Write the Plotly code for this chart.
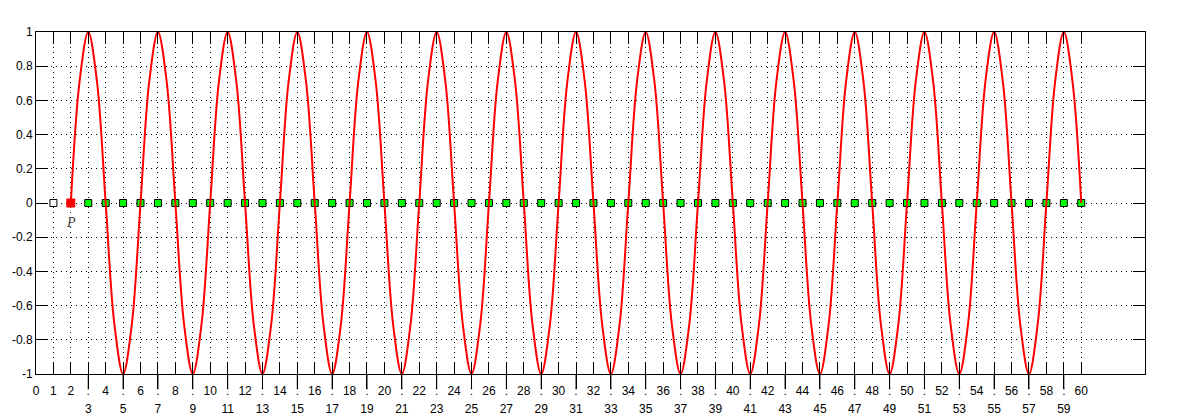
import plotly.graph_objects as go

# ---- data ----
x_ticks = list(range(0, 61))
y_ticks = [1, 0.8, 0.6, 0.4, 0.2, 0, -0.2, -0.4, -0.6, -0.8, -1]
y_tick_labels = ["1", "0.8", "0.6", "0.4", "0.2", "0", "-0.2", "-0.4", "-0.6", "-0.8", "-1"]

# red curve: one period (every 0.5 in x), repeated; runs x=2..60
curve_period_y = [0, 0.71, 1, 0.71, 0, -0.71, -1, -0.71]
curve_half_period_end = [0, 0.71, 1, 0.71, 0]
curve_periods = 14
curve_y = curve_period_y * curve_periods + curve_half_period_end
curve_x = [2 + 0.5 * i for i in range(len(curve_y))]

# square markers along y = 0
white_x = [1]
red_x = [2]
green_x = list(range(3, 61))
label_p = {"x": 2, "y": -0.113, "text": "P"}

FONT = "Liberation Sans, Arial, sans-serif"

fig = go.Figure()

fig.add_trace(go.Scatter(x=white_x, y=[0] * len(white_x), mode="markers",
                         marker=dict(symbol="square", size=7, color="white",
                                     line=dict(color="black", width=1)),
                         showlegend=False, hoverinfo="skip"))
fig.add_trace(go.Scatter(x=red_x, y=[0] * len(red_x), mode="markers",
                         marker=dict(symbol="square", size=8, color="#ff0000",
                                     line=dict(color="#ff0000", width=1)),
                         showlegend=False, hoverinfo="skip"))
fig.add_trace(go.Scatter(x=green_x, y=[0] * len(green_x), mode="markers",
                         marker=dict(symbol="square", size=7, color="#00ff00",
                                     line=dict(color="black", width=1)),
                         showlegend=False, hoverinfo="skip"))
fig.add_trace(go.Scatter(x=curve_x, y=curve_y, mode="lines",
                         line=dict(color="#ff0000", width=2, shape="spline", smoothing=1),
                         showlegend=False, hoverinfo="skip"))

# odd ticks from 3 get a long tick mark below the axis and a second-row label
long_ticks = [v for v in x_ticks if v % 2 == 1 and v >= 3]
fig.add_trace(go.Scatter(x=[0, 60], y=[None, None], xaxis="x2", showlegend=False,
                         hoverinfo="skip"))
for v in long_ticks:
    fig.add_shape(type="line", xref="x", yref="paper", x0=v, x1=v, y0=0, y1=-0.041,
                  line=dict(color="black", width=1), layer="above")

fig.add_annotation(x=label_p["x"], y=label_p["y"], text=label_p["text"], showarrow=False,
                   font=dict(family="Liberation Serif, serif", size=14, color="#404040",
                             style="italic"))

x_range = [0, 63.66]
main_ticktext = [":" if v in long_ticks else str(v) for v in x_ticks]

fig.update_layout(
    width=1184, height=412,
    margin=dict(l=28, r=47, t=24, b=46),
    paper_bgcolor="white", plot_bgcolor="white",
    font=dict(family=FONT, size=12, color="black"),
    xaxis=dict(range=x_range, tickmode="array", tickvals=x_ticks, ticktext=main_ticktext,
               ticks="inside", ticklen=12, tickwidth=1, tickcolor="black",
               showline=True, linecolor="black", linewidth=1, mirror="ticks",
               showgrid=True, gridcolor="black", gridwidth=1, griddash="1px,4px",
               zeroline=False, tickangle=0, automargin=False, ticklabelstandoff=6),
    xaxis2=dict(range=x_range, overlaying="x", anchor="y", side="bottom",
                tickmode="array", tickvals=long_ticks, ticktext=[str(v) for v in long_ticks],
                ticks="outside", ticklen=14, tickwidth=1, tickcolor="black",
                showline=False, showgrid=False, zeroline=False, automargin=False,
                tickangle=0, ticklabelstandoff=10),
    yaxis=dict(range=[-1, 1], tickmode="array", tickvals=y_ticks, ticktext=y_tick_labels,
               ticks="inside", ticklen=12, tickwidth=1, tickcolor="black",
               showline=True, linecolor="black", linewidth=1, mirror="ticks",
               showgrid=True, gridcolor="black", gridwidth=1, griddash="1px,4px",
               zeroline=False, automargin=False),
)

fig.write_html("out.html")
